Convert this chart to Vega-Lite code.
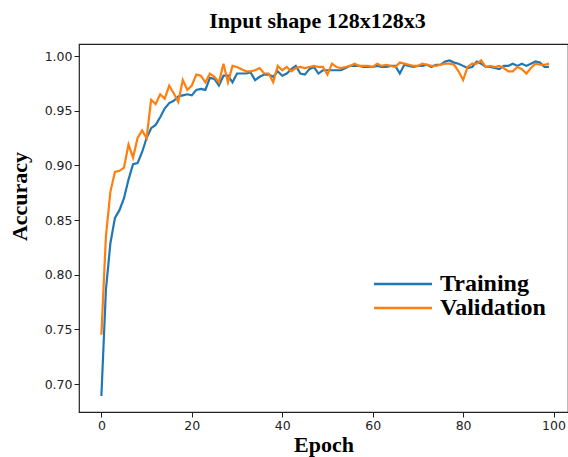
{
  "$schema": "https://vega.github.io/schema/vega-lite/v6.json",
  "width": 489,
  "height": 368,
  "autosize": {"type": "none"},
  "padding": {"left": 79, "top": 44, "right": 0, "bottom": 45},
  "background": "white",
  "title": {
    "text": "Input shape 128x128x3",
    "font": "Liberation Serif",
    "fontSize": 22,
    "fontWeight": "bold",
    "color": "black",
    "anchor": "middle",
    "baseline": "alphabetic",
    "offset": 18,
    "dy": 24,
    "dx": -6
  },
  "config": {
    "view": {"stroke": "#222", "strokeWidth": 1.2},
    "axis": {
      "grid": false,
      "domain": false,
      "tickColor": "#222",
      "tickSize": 5,
      "tickWidth": 1,
      "labelFont": "DejaVu Sans",
      "labelFontSize": 12.5,
      "labelColor": "#222",
      "labelPadding": 2,
      "titleFont": "Liberation Serif",
      "titleFontSize": 22,
      "titleFontWeight": "bold",
      "titleColor": "black"
    }
  },
  "data": {
    "values": [
      {"epoch": 0, "Training": 0.689, "Validation": 0.745},
      {"epoch": 1, "Training": 0.786, "Validation": 0.835},
      {"epoch": 2, "Training": 0.829, "Validation": 0.876},
      {"epoch": 3, "Training": 0.852, "Validation": 0.894},
      {"epoch": 4, "Training": 0.859, "Validation": 0.895},
      {"epoch": 5, "Training": 0.870, "Validation": 0.898},
      {"epoch": 6, "Training": 0.887, "Validation": 0.919},
      {"epoch": 7, "Training": 0.901, "Validation": 0.907},
      {"epoch": 8, "Training": 0.902, "Validation": 0.925},
      {"epoch": 9, "Training": 0.912, "Validation": 0.932},
      {"epoch": 10, "Training": 0.925, "Validation": 0.925},
      {"epoch": 11, "Training": 0.934, "Validation": 0.960},
      {"epoch": 12, "Training": 0.937, "Validation": 0.956},
      {"epoch": 13, "Training": 0.944, "Validation": 0.965},
      {"epoch": 14, "Training": 0.952, "Validation": 0.961},
      {"epoch": 15, "Training": 0.957, "Validation": 0.973},
      {"epoch": 16, "Training": 0.959, "Validation": 0.966},
      {"epoch": 17, "Training": 0.963, "Validation": 0.958},
      {"epoch": 18, "Training": 0.964, "Validation": 0.978},
      {"epoch": 19, "Training": 0.965, "Validation": 0.969},
      {"epoch": 20, "Training": 0.964, "Validation": 0.973},
      {"epoch": 21, "Training": 0.969, "Validation": 0.983},
      {"epoch": 22, "Training": 0.970, "Validation": 0.982},
      {"epoch": 23, "Training": 0.969, "Validation": 0.976},
      {"epoch": 24, "Training": 0.980, "Validation": 0.984},
      {"epoch": 25, "Training": 0.979, "Validation": 0.981},
      {"epoch": 26, "Training": 0.973, "Validation": 0.976},
      {"epoch": 27, "Training": 0.982, "Validation": 0.993},
      {"epoch": 28, "Training": 0.982, "Validation": 0.976},
      {"epoch": 29, "Training": 0.976, "Validation": 0.991},
      {"epoch": 30, "Training": 0.984, "Validation": 0.990},
      {"epoch": 31, "Training": 0.984, "Validation": 0.988},
      {"epoch": 32, "Training": 0.984, "Validation": 0.986},
      {"epoch": 33, "Training": 0.985, "Validation": 0.986},
      {"epoch": 34, "Training": 0.978, "Validation": 0.987},
      {"epoch": 35, "Training": 0.981, "Validation": 0.989},
      {"epoch": 36, "Training": 0.983, "Validation": 0.984},
      {"epoch": 37, "Training": 0.983, "Validation": 0.984},
      {"epoch": 38, "Training": 0.981, "Validation": 0.976},
      {"epoch": 39, "Training": 0.986, "Validation": 0.991},
      {"epoch": 40, "Training": 0.982, "Validation": 0.987},
      {"epoch": 41, "Training": 0.984, "Validation": 0.990},
      {"epoch": 42, "Training": 0.988, "Validation": 0.986},
      {"epoch": 43, "Training": 0.991, "Validation": 0.989},
      {"epoch": 44, "Training": 0.984, "Validation": 0.990},
      {"epoch": 45, "Training": 0.983, "Validation": 0.989},
      {"epoch": 46, "Training": 0.988, "Validation": 0.990},
      {"epoch": 47, "Training": 0.990, "Validation": 0.991},
      {"epoch": 48, "Training": 0.984, "Validation": 0.990},
      {"epoch": 49, "Training": 0.987, "Validation": 0.990},
      {"epoch": 50, "Training": 0.987, "Validation": 0.983},
      {"epoch": 51, "Training": 0.987, "Validation": 0.993},
      {"epoch": 52, "Training": 0.987, "Validation": 0.990},
      {"epoch": 53, "Training": 0.987, "Validation": 0.989},
      {"epoch": 54, "Training": 0.989, "Validation": 0.990},
      {"epoch": 55, "Training": 0.991, "Validation": 0.991},
      {"epoch": 56, "Training": 0.991, "Validation": 0.993},
      {"epoch": 57, "Training": 0.991, "Validation": 0.991},
      {"epoch": 58, "Training": 0.990, "Validation": 0.991},
      {"epoch": 59, "Training": 0.990, "Validation": 0.991},
      {"epoch": 60, "Training": 0.990, "Validation": 0.990},
      {"epoch": 61, "Training": 0.991, "Validation": 0.993},
      {"epoch": 62, "Training": 0.990, "Validation": 0.991},
      {"epoch": 63, "Training": 0.990, "Validation": 0.992},
      {"epoch": 64, "Training": 0.991, "Validation": 0.991},
      {"epoch": 65, "Training": 0.991, "Validation": 0.990},
      {"epoch": 66, "Training": 0.984, "Validation": 0.994},
      {"epoch": 67, "Training": 0.992, "Validation": 0.993},
      {"epoch": 68, "Training": 0.991, "Validation": 0.992},
      {"epoch": 69, "Training": 0.990, "Validation": 0.991},
      {"epoch": 70, "Training": 0.991, "Validation": 0.991},
      {"epoch": 71, "Training": 0.991, "Validation": 0.993},
      {"epoch": 72, "Training": 0.992, "Validation": 0.992},
      {"epoch": 73, "Training": 0.990, "Validation": 0.991},
      {"epoch": 74, "Training": 0.992, "Validation": 0.991},
      {"epoch": 75, "Training": 0.992, "Validation": 0.992},
      {"epoch": 76, "Training": 0.995, "Validation": 0.993},
      {"epoch": 77, "Training": 0.996, "Validation": 0.993},
      {"epoch": 78, "Training": 0.994, "Validation": 0.992},
      {"epoch": 79, "Training": 0.993, "Validation": 0.986},
      {"epoch": 80, "Training": 0.991, "Validation": 0.978},
      {"epoch": 81, "Training": 0.989, "Validation": 0.990},
      {"epoch": 82, "Training": 0.990, "Validation": 0.993},
      {"epoch": 83, "Training": 0.995, "Validation": 0.993},
      {"epoch": 84, "Training": 0.993, "Validation": 0.996},
      {"epoch": 85, "Training": 0.990, "Validation": 0.990},
      {"epoch": 86, "Training": 0.990, "Validation": 0.991},
      {"epoch": 87, "Training": 0.989, "Validation": 0.990},
      {"epoch": 88, "Training": 0.988, "Validation": 0.991},
      {"epoch": 89, "Training": 0.991, "Validation": 0.989},
      {"epoch": 90, "Training": 0.991, "Validation": 0.986},
      {"epoch": 91, "Training": 0.993, "Validation": 0.986},
      {"epoch": 92, "Training": 0.991, "Validation": 0.990},
      {"epoch": 93, "Training": 0.993, "Validation": 0.988},
      {"epoch": 94, "Training": 0.991, "Validation": 0.984},
      {"epoch": 95, "Training": 0.993, "Validation": 0.989},
      {"epoch": 96, "Training": 0.995, "Validation": 0.993},
      {"epoch": 97, "Training": 0.994, "Validation": 0.992},
      {"epoch": 98, "Training": 0.990, "Validation": 0.992},
      {"epoch": 99, "Training": 0.990, "Validation": 0.993}
    ]
  },
  "transform": [
    {"fold": ["Training", "Validation"], "as": ["series", "accuracy"]}
  ],
  "mark": {"type": "line", "strokeWidth": 2.2, "clip": true},
  "encoding": {
    "x": {
      "field": "epoch",
      "type": "quantitative",
      "scale": {"domain": [-4.95, 103.2], "nice": false, "zero": false},
      "axis": {"values": [0, 20, 40, 60, 80, 100], "title": "Epoch", "titlePadding": 3, "labelFlush": false}
    },
    "y": {
      "field": "accuracy",
      "type": "quantitative",
      "scale": {"domain": [0.6744, 1.011], "nice": false, "zero": false},
      "axis": {
        "values": [0.70, 0.75, 0.80, 0.85, 0.90, 0.95, 1.00],
        "format": ".2f",
        "title": "Accuracy",
        "titleX": -60,
        "titleY": 152,
        "titleBaseline": "middle",
        "labelFlush": false
      }
    },
    "color": {
      "field": "series",
      "type": "nominal",
      "scale": {"domain": ["Training", "Validation"], "range": ["#1f77b4", "#ff7f0e"]},
      "legend": {
        "orient": "none",
        "legendX": 312,
        "legendY": 228,
        "title": null,
        "padding": 0,
        "symbolType": "M-2.9,0H2.9",
        "symbolSize": 400,
        "symbolStrokeWidth": 2.5,
        "labelFont": "Liberation Serif",
        "labelFontSize": 24,
        "labelFontWeight": "bold",
        "labelColor": "black",
        "labelOffset": 25,
        "rowPadding": -1
      }
    }
  }
}
